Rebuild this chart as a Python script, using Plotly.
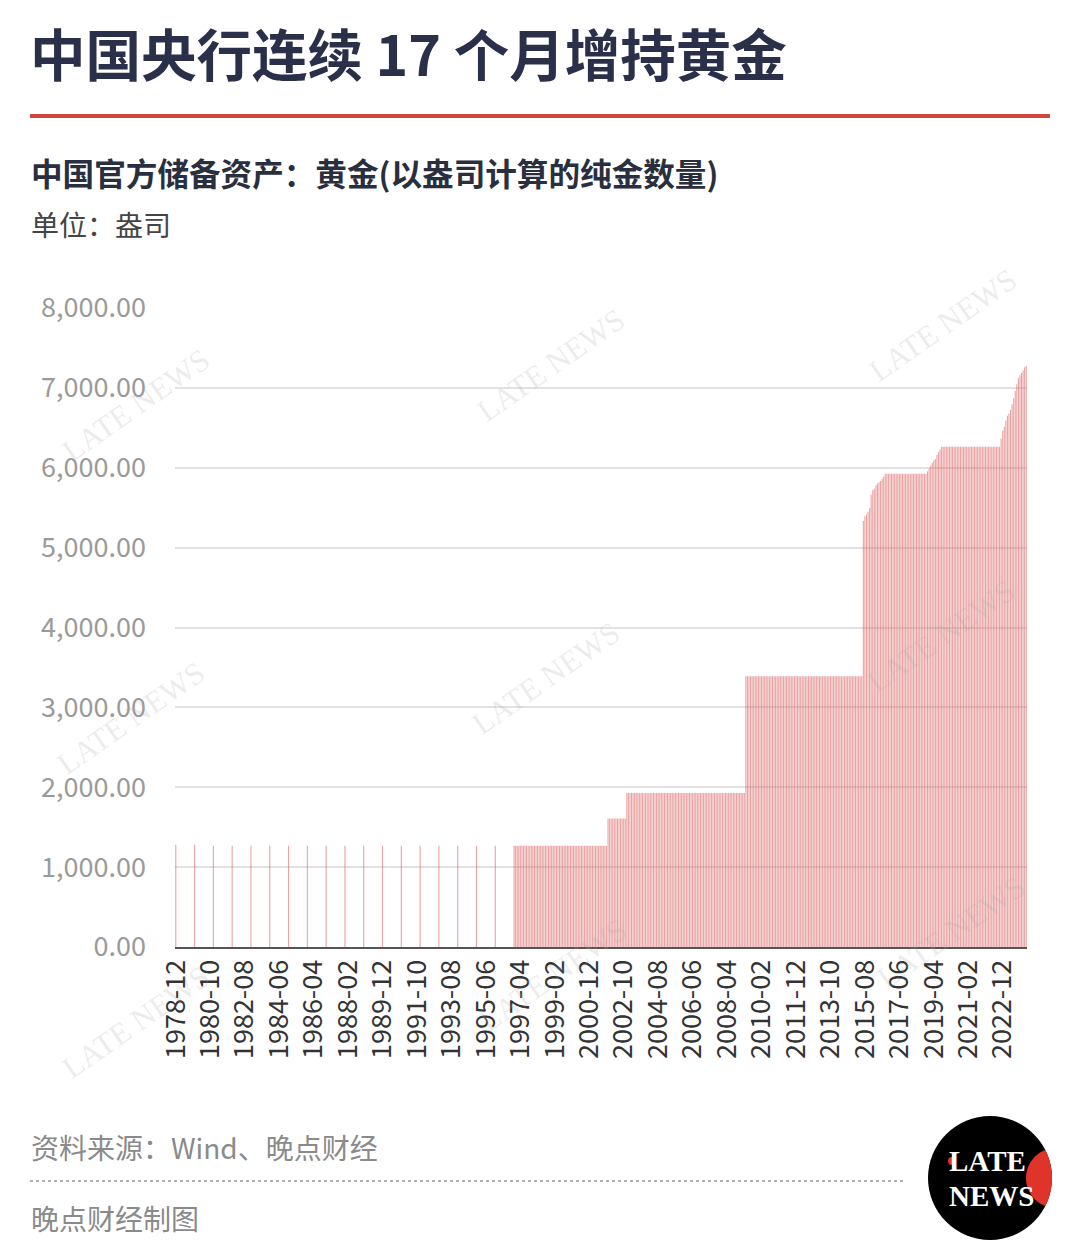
import numpy as np
import pandas as pd
import plotly.graph_objects as go

# ---------------- data (万盎司 shown as 盎司 in source) ----------------
annual_years = list(range(1978, 1997))            # December observations only
annual_values = [1280, 1280, 1267, 1267, 1267, 1267, 1267, 1267, 1267, 1267,
                 1267, 1267, 1267, 1267, 1267, 1267, 1267, 1267, 1267]

# flat monthly periods: (start, end, value)
flat_start = ["1997-01", "2001-12", "2002-12", "2009-04", "2016-10", "2019-10"]
flat_end   = ["2001-11", "2002-11", "2009-03", "2015-06", "2018-11", "2022-10"]
flat_value = [1267, 1608, 1929, 3389, 5924, 6264]

# monthly buying episodes
ep1_start = "2015-07"
ep1_values = [5332, 5393, 5415, 5448, 5493, 5666, 5718, 5736, 5779, 5803,
              5820, 5833, 5862, 5886, 5924]
ep2_start = "2018-12"
ep2_values = [5956, 5994, 6026, 6062, 6091, 6110, 6161, 6194, 6226, 6264]
ep3_start = "2022-11"
ep3_values = [6367, 6464, 6512, 6592, 6650, 6676, 6727, 6795, 6869, 6962,
              7046, 7120, 7158, 7187, 7219, 7258, 7274]

first_month = "1978-12"
last_month = "2024-03"
tick_step = 22

# ---------------- assemble series ----------------
months = pd.period_range(first_month, last_month, freq="M")
cats = [str(m) for m in months]
vals = pd.Series([None] * len(cats), index=cats, dtype=object)
for yr, v in zip(annual_years, annual_values):
    vals[f"{yr}-12"] = v
for s, e, v in zip(flat_start, flat_end, flat_value):
    for m in pd.period_range(s, e, freq="M"):
        vals[str(m)] = v
for s, lst in [(ep1_start, ep1_values), (ep2_start, ep2_values), (ep3_start, ep3_values)]:
    for m, v in zip(pd.period_range(s, periods=len(lst), freq="M"), lst):
        vals[str(m)] = v

tickvals = cats[::tick_step]

# ---------------- geometry helpers (pixel -> paper) ----------------
W, H = 1080, 1247
L, R, T, B = 175, 1027, 308, 947


def px(x):
    return (x - L) / (R - L)


def py(y):
    return (B - y) / (B - T)


FONT = "Noto Sans CJK SC"

fig = go.Figure()
fig.add_trace(go.Bar(
    x=cats, y=list(vals.values),
    marker=dict(color="rgba(220,100,100,0.6)", line=dict(width=0)),
    hoverinfo="x+y",
))

annotations = []


def txt(x, y, s, size, color, anchor="left", bold=False, family=FONT, angle=0):
    annotations.append(dict(
        x=px(x), y=py(y), xref="paper", yref="paper", text=(f"<b>{s}</b>" if bold else s),
        showarrow=False, xanchor=anchor, yanchor="middle", textangle=angle,
        font=dict(family=family, size=size, color=color)))


# watermarks
for (wx, wy) in [(135, 405), (550, 365), (942, 325), (130, 718), (545, 678),
                 (940, 636), (135, 1022), (552, 975), (950, 932)]:
    txt(wx, wy, "LATE NEWS", 31, "rgba(170,170,170,0.22)", anchor="center",
        family="Liberation Serif", angle=-35)

txt(28, 52, "中国央行连续 17 个月增持黄金", 55.5, "#2a3049", bold=True)
txt(29, 172, "中国官方储备资产：黄金(以盎司计算的纯金数量)", 31.6, "#2a2f40", bold=True)
txt(29, 224, "单位：盎司", 28, "#444444")
txt(29, 1147, "资料来源：Wind、晚点财经", 28, "#8a8a8a")
txt(29, 1218, "晚点财经制图", 28, "#8a8a8a")

# logo text
txt(987, 1161, "<b>LATE</b>", 29, "white", anchor="center", family="Liberation Serif")
txt(991, 1196, "<b>NEWS</b>", 29, "white", anchor="center", family="Liberation Serif")

shapes = []
# red rule under title
shapes.append(dict(type="line", xref="paper", yref="paper", x0=px(30), x1=px(1050),
                   y0=py(116), y1=py(116), line=dict(color="#d0463a", width=4)))
# dotted separator
shapes.append(dict(type="line", xref="paper", yref="paper", x0=px(30), x1=px(905),
                   y0=py(1181), y1=py(1181), line=dict(color="#b0b0b0", width=2, dash="dot")))
# logo circle
cx, cy, r = 990, 1178, 62
shapes.append(dict(type="circle", xref="paper", yref="paper", x0=px(cx - r), x1=px(cx + r),
                   y0=py(cy - r), y1=py(cy + r), fillcolor="black", line=dict(width=0)))
# red lens (intersection of red circle and black circle)
rcx, rcy, rr = 1056, 1178, 30
ang = np.linspace(0, 2 * np.pi, 200)
red_pts = [(rcx + rr * np.cos(a), rcy + rr * np.sin(a)) for a in ang]
blk_pts = [(cx + r * np.cos(a), cy + r * np.sin(a)) for a in ang]
inside_red = [p for p in red_pts if (p[0] - cx) ** 2 + (p[1] - cy) ** 2 <= r ** 2]
inside_blk = [p for p in blk_pts if (p[0] - rcx) ** 2 + (p[1] - rcy) ** 2 <= rr ** 2]
poly = inside_red + inside_blk
centroid = (np.mean([p[0] for p in poly]), np.mean([p[1] for p in poly]))
poly.sort(key=lambda p: np.arctan2(p[1] - centroid[1], p[0] - centroid[0]))
path = "M " + " L ".join(f"{px(p[0]):.5f},{py(p[1]):.5f}" for p in poly) + " Z"
shapes.append(dict(type="path", xref="paper", yref="paper", path=path,
                   fillcolor="#e0332a", line=dict(width=0)))
# red dot on L
shapes.append(dict(type="circle", xref="paper", yref="paper", x0=px(948), x1=px(956),
                   y0=py(1157), y1=py(1165), fillcolor="#e0332a", line=dict(width=0)))

fig.update_layout(
    width=W, height=H,
    margin=dict(l=L, r=W - R, t=T, b=H - B, pad=0),
    paper_bgcolor="white", plot_bgcolor="white",
    bargap=0.3, showlegend=False,
    font=dict(family=FONT),
    annotations=annotations, shapes=shapes,
    xaxis=dict(type="category", categoryorder="array", categoryarray=cats,
               tickmode="array", tickvals=tickvals, ticktext=tickvals,
               tickangle=-90, tickfont=dict(size=27, color="#333333", family=FONT),
               showgrid=False, showline=True, linecolor="#555555", linewidth=2,
               ticks="", range=[-0.5, len(cats) - 0.5]),
    yaxis=dict(range=[0, 8000], dtick=1000, tickformat=",.2f",
               tickfont=dict(size=27, color="#9a9a9a", family=FONT),
               showgrid=True, gridcolor="#e2e2e2", gridwidth=1.5,
               zeroline=False, showline=False, ticks="", ticklabelstandoff=28),
)

fig.write_html("out.html", post_script="document.body.style.margin='0';",
               config={"displayModeBar": False})
